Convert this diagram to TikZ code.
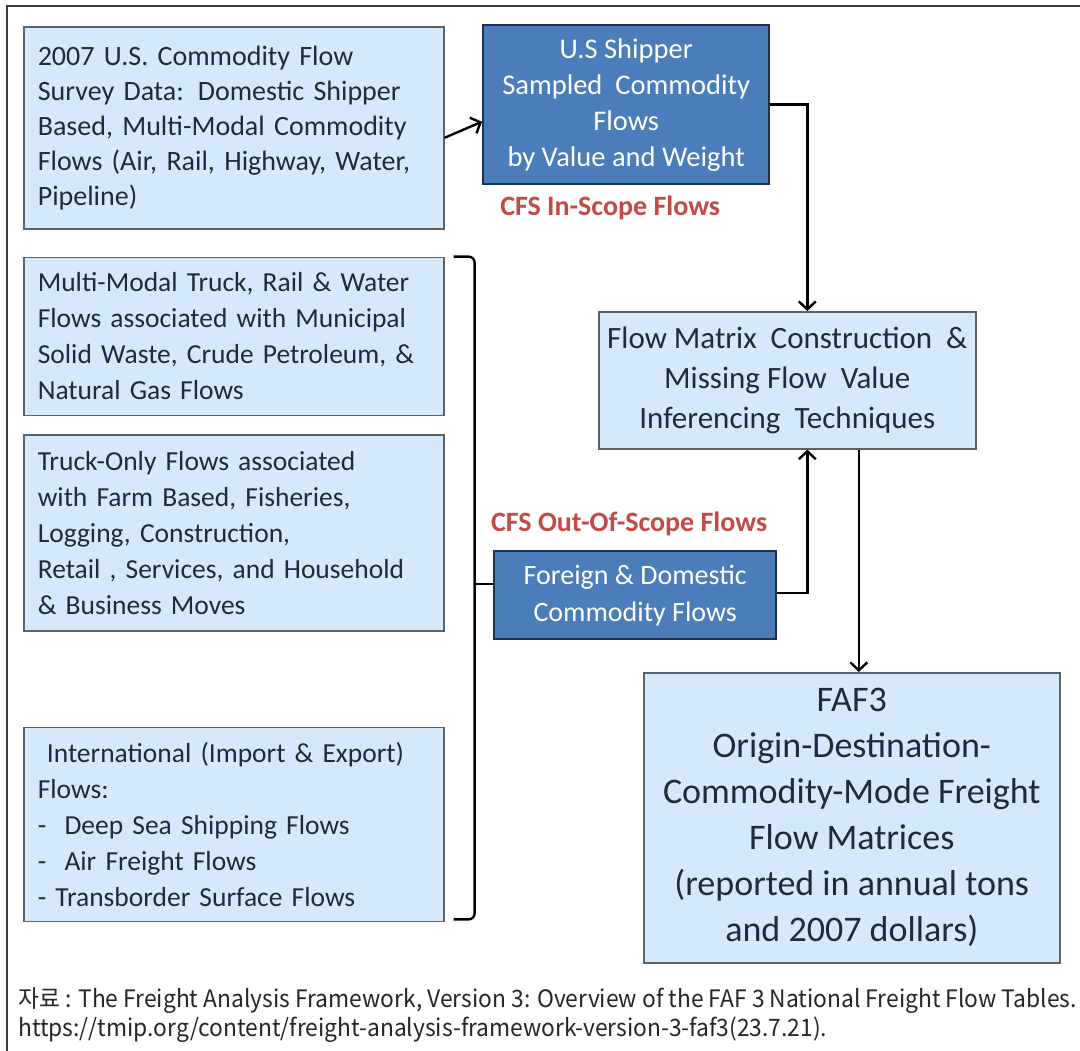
\documentclass[tikz,border=0pt]{standalone}
\usepackage{fontspec}
\setmainfont{Carlito}
\newfontfamily\krfont[FakeStretch=0.95]{Noto Sans CJK KR}
\usepackage{tikz}
\usetikzlibrary{arrows.meta,positioning}
\definecolor{fafpale}{HTML}{D5E9F9}
\definecolor{fafedge}{HTML}{58636E}
\definecolor{fafnavy}{HTML}{4B7DBA}
\definecolor{fafdeep}{HTML}{1E3150}
\definecolor{fafink}{HTML}{1F2B3B}
\definecolor{fafred}{HTML}{C44A48}
\definecolor{fafframe}{HTML}{3A3A3A}
\hyphenpenalty=10000
\exhyphenpenalty=10000

\begin{document}
\begin{tikzpicture}[
    x=1pt, y=1pt,
    inbox/.style={rectangle, draw=fafedge, fill=fafpale, line width=1.6pt, text=fafink, inner xsep=14pt, inner ysep=4pt, text width=392pt, align=left, font=\fontsize{27.5}{36}\selectfont},
    hubbox/.style={rectangle, draw=fafdeep, fill=fafnavy, line width=2.4pt, text=white, align=center, font=\fontsize{28.5}{36}\selectfont},
    outbox/.style={rectangle, draw=fafedge, fill=fafpale, line width=1.6pt, text=fafink, align=center},
    scopelabel/.style={text=fafred, inner sep=2pt, font=\bfseries\fontsize{28}{34}\selectfont},
    arr/.style={-{Straight Barb[length=8pt, width=17pt, line width=2.4pt]}, line width=2.4pt, draw=black},
    brace/.style={line width=2.4pt, draw=black, rounded corners=6pt}
]
    \useasboundingbox (0,0) rectangle (1080,-1051);
    \fill [white] (0,0) rectangle (1080,-1051);
    \draw [fafframe, line width=2pt] (1080,-6) -- (7,-6) -- (7,-1051);

    % Left column
    \node (survey) [inbox, minimum height=202pt, anchor=north west, font=\fontsize{28}{35}\selectfont] at (23,-26) {2007 U.S. Commodity Flow\\Survey Data: Domestic Shipper\\Based, Multi-Modal Commodity\\Flows (Air, Rail, Highway, Water,\\Pipeline)};
    \node (municipal) [inbox, minimum height=158pt, below=27pt of survey] {Multi-Modal Truck, Rail \& Water\\Flows associated with Municipal\\Solid Waste, Crude Petroleum, \&\\Natural Gas Flows};
    \node (truckonly) [inbox, minimum height=196pt, below=18pt of municipal] {Truck-Only Flows associated\\with Farm Based, Fisheries,\\Logging, Construction,\\Retail , Services, and Household\\\& Business Moves};
    \node (intl) [inbox, minimum height=194pt, below=95pt of truckonly] {~International (Import \& Export)\\Flows:\\-~ Deep Sea Shipping Flows\\-~ Air Freight Flows\\- Transborder Surface Flows};

    % Hubs and outputs
    \node (shipper) [hubbox, minimum width=286pt, minimum height=159pt, anchor=north west] at (482,-24) {U.S Shipper\\Sampled~ Commodity\\Flows\\by Value and Weight};
    \node (inscope) [scopelabel, below=8pt of shipper, xshift=-16pt] {CFS In-Scope Flows};
    \node (inference) [outbox, minimum width=377pt, minimum height=137pt, anchor=north west, font=\fontsize{31}{40}\selectfont] at (598,-311) {Flow Matrix~ Construction~ \&\\Missing Flow~ Value\\Inferencing~ Techniques};
    \node (foreign) [hubbox, minimum width=282pt, minimum height=88pt, anchor=north west, font=\fontsize{28}{37}\selectfont] at (493,-550) {Foreign \& Domestic\\Commodity Flows};
    \node (outscope) [scopelabel, above=12pt of foreign, xshift=-6pt] {CFS Out-Of-Scope Flows};
    \node (faf) [outbox, minimum width=416pt, minimum height=290pt, anchor=north west, font=\fontsize{36}{46}\selectfont] at (643,-672) {FAF3\\Origin-Destination-\\Commodity-Mode Freight\\Flow Matrices\\(reported in annual tons\\and 2007 dollars)};

    % Bracket
    \coordinate (spine) at ([xshift=30pt]intl.south east);
    \coordinate (bracetip) at ([yshift=11pt]foreign.west -| spine);
    \draw [brace] ([xshift=9pt]municipal.north east) -- ([xshift=30pt]municipal.north east) -- ([xshift=30pt,yshift=3pt]intl.south east) -- ([xshift=9pt,yshift=3pt]intl.south east);
    \draw [brace] ([yshift=11pt]foreign.west) -- (bracetip);

    % Connectors
    \draw [arr] ([yshift=-10pt]survey.east) -- ([yshift=-17pt]shipper.west);
    \draw [arr] (shipper.east) -| ([xshift=20pt]inference.north);
    \draw [arr] ([yshift=2pt]foreign.east) -| ([xshift=20pt]inference.south);
    \draw [arr] ([xshift=7pt]faf.north |- inference.south) -- ([xshift=7pt]faf.north);

    % Source note
    \node (source) [anchor=north west, inner sep=0pt, align=left, text=black!85, font=\krfont\fontsize{24}{29}\selectfont] at (18,-987) {자료 : The Freight Analysis Framework, Version 3: Overview of the FAF 3 National Freight Flow Tables.\\https://tmip.org/content/freight-analysis-framework-version-3-faf3(23.7.21).};
\end{tikzpicture}
\end{document}
